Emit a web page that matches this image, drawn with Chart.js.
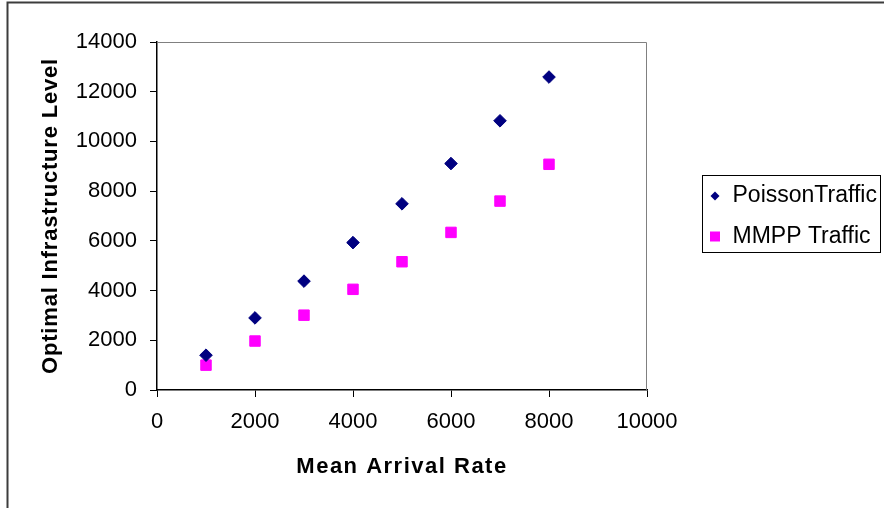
<!DOCTYPE html>
<html>
<head>
<meta charset="utf-8">
<script src="https://cdn.jsdelivr.net/npm/chart.js@4.4.0/dist/chart.umd.min.js"></script>
<style>
  html, body { margin: 0; padding: 0; background: #fff; }
  #wrap { position: absolute; left: 0; top: 0; width: 884px; height: 508px; }
</style>
</head>
<body>
<div id="wrap"><canvas id="c" width="884" height="508"></canvas></div>
<script>
// ---- data ----
const arrivalRates = [1000, 2000, 3000, 4000, 5000, 6000, 7000, 8000];
const poissonLevels = [1400, 2900, 4380, 5930, 7490, 9110, 10830, 12590];
const mmppLevels = [1000, 1970, 3010, 4050, 5160, 6340, 7600, 9080];
const seriesNames = ['PoissonTraffic', 'MMPP Traffic'];
const xTickMax = 10000, yTickMax = 14000, tickStep = 2000;
const xTitle = 'Mean Arrival Rate';
const yTitle = 'Optimal Infrastructure Level';

const FONT = '"Liberation Sans", Arial, Helvetica, sans-serif';

const framePlugin = {
  id: 'frame',
  beforeDraw(chart) {
    const ctx = chart.ctx;
    ctx.save();
    ctx.fillStyle = '#fff';
    ctx.fillRect(0, 0, chart.width, chart.height);
    ctx.strokeStyle = '#3c3c3c';
    ctx.lineWidth = 2;
    ctx.beginPath();
    ctx.moveTo(7.5, chart.height + 5);
    ctx.lineTo(7.5, 2.5);
    ctx.lineTo(chart.width + 5, 2.5);
    ctx.stroke();
    ctx.restore();
    // letter-spaced axis titles
    const spacing = { x: '1.5px', y: '0.8px' };
    for (const id of ['x', 'y']) {
      const sc = chart.scales[id];
      if (!sc || sc._patchedTitle) continue;
      const orig = sc.drawTitle;
      sc.drawTitle = function () {
        const c = this.ctx;
        c.save();
        c.letterSpacing = spacing[id];
        orig.call(this);
        c.restore();
      };
      sc._patchedTitle = true;
    }
  },
  afterDraw(chart) {
    const ctx = chart.ctx;
    const a = chart.chartArea;
    ctx.save();
    // gray top & right plot border
    ctx.strokeStyle = '#808080';
    ctx.lineWidth = 1;
    ctx.beginPath();
    ctx.moveTo(a.left, Math.round(a.top) + 0.5);
    ctx.lineTo(Math.round(a.right) - 0.5, Math.round(a.top) + 0.5);
    ctx.lineTo(Math.round(a.right) - 0.5, a.bottom);
    ctx.stroke();

    // legend box
    const lx = Math.round(a.right) + 55.5, ly = 175.5, lw = 178, lh = 77;
    ctx.strokeStyle = '#000';
    ctx.lineWidth = 1;
    ctx.strokeRect(lx, ly, lw, lh);
    ctx.font = '23px ' + FONT;
    ctx.textBaseline = 'middle';
    ctx.textAlign = 'left';
    chart.data.datasets.forEach((ds, i) => {
      const cy = ly + 20.5 + i * 40.5;
      const mx = lx + 12.5;
      ctx.fillStyle = ds.backgroundColor;
      ctx.beginPath();
      if (ds.pointStyle === 'rectRot') {
        const r = 4.5;
        ctx.moveTo(mx, cy - r);
        ctx.lineTo(mx + r, cy);
        ctx.lineTo(mx, cy + r);
        ctx.lineTo(mx - r, cy);
        ctx.closePath();
      } else {
        const s = 10;
        ctx.rect(mx - s / 2, cy - s / 2, s, s);
      }
      ctx.fill();
      ctx.fillStyle = '#000';
      ctx.fillText(ds.label, lx + 30, cy);
    });
    ctx.restore();
  }
};

const toPoints = (ys) => arrivalRates.map((x, i) => ({ x: x, y: ys[i] }));

new Chart(document.getElementById('c'), {
  type: 'scatter',
  data: {
    datasets: [
      {
        label: seriesNames[0],
        data: toPoints(poissonLevels),
        pointStyle: 'rectRot',
        pointRadius: 6.3,
        backgroundColor: '#000080',
        borderColor: '#000080',
        borderWidth: 1
      },
      {
        label: seriesNames[1],
        data: toPoints(mmppLevels),
        pointStyle: 'rect',
        pointRadius: 7.4,
        backgroundColor: '#FF00FF',
        borderColor: '#FF00FF',
        borderWidth: 1
      }
    ]
  },
  options: {
    responsive: false,
    animation: false,
    events: [],
    layout: { padding: { left: 0, top: 42, right: 237, bottom: 18 } },
    plugins: {
      legend: { display: false },
      tooltip: { enabled: false }
    },
    scales: {
      x: {
        type: 'linear',
        min: 0,
        max: xTickMax,
        afterFit(s) { s.height = 100; },
        ticks: {
          stepSize: tickStep,
          color: '#000',
          font: { family: FONT, size: 22 },
          padding: 12,
          maxRotation: 0,
          callback: (v) => String(v)
        },
        grid: { drawOnChartArea: false, tickLength: 7, color: '#000', lineWidth: 1 },
        border: { color: '#000', width: 1.5 },
        title: {
          display: true,
          text: xTitle,
          color: '#000',
          font: { family: FONT, size: 22, weight: 'bold' },
          padding: { top: 0, bottom: 10 }
        }
      },
      y: {
        type: 'linear',
        min: 0,
        max: yTickMax,
        afterFit(s) { s.width = 157; },
        ticks: {
          stepSize: tickStep,
          color: '#000',
          font: { family: FONT, size: 22 },
          padding: 13,
          callback: (v) => String(v)
        },
        grid: { drawOnChartArea: false, tickLength: 7, color: '#000', lineWidth: 1 },
        border: { color: '#000', width: 1.5 },
        title: {
          display: true,
          text: yTitle,
          color: '#000',
          font: { family: FONT, size: 22, weight: 'bold' },
          padding: { top: 38, bottom: 0 }
        }
      }
    }
  },
  plugins: [framePlugin]
});
</script>
</body>
</html>
